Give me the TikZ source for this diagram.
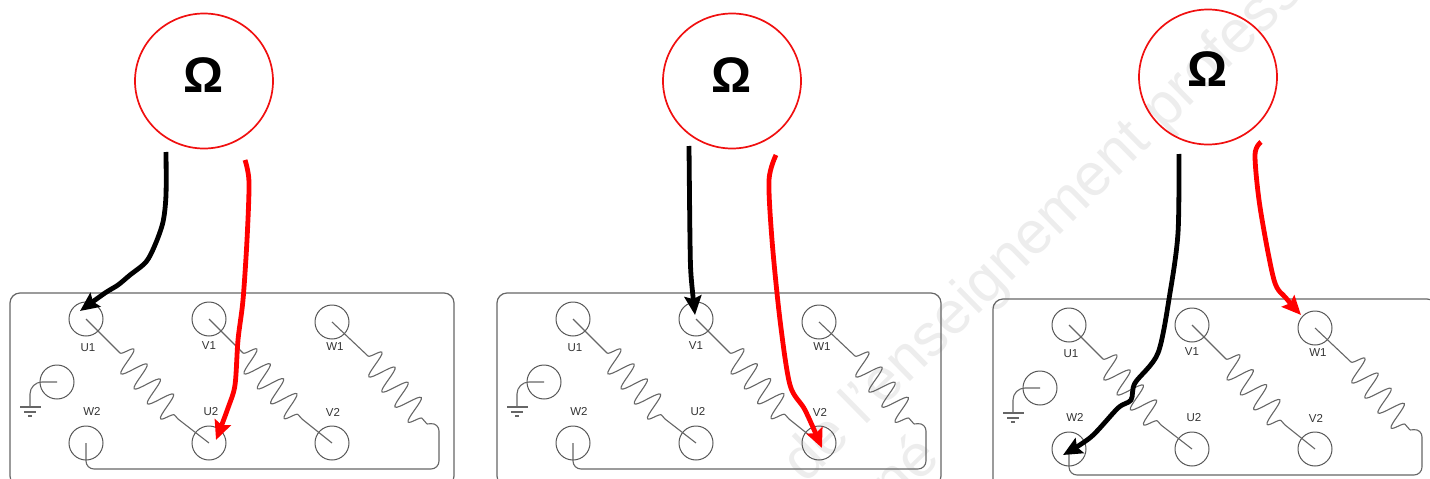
\documentclass[tikz,border=0pt]{standalone}
\usepackage{fontspec}
\setmainfont{Liberation Sans}
\usetikzlibrary{arrows.meta,shapes.geometric,decorations.pathmorphing}

\definecolor{ringred}{HTML}{F01010}
\definecolor{wirered}{HTML}{FF0000}
\definecolor{boxgray}{HTML}{666666}
\definecolor{marktext}{HTML}{EDEDED}

\tikzset{
    meter/.style={ellipse, draw=ringred, line width=1.7pt, minimum width=138pt, minimum height=135pt, inner sep=0pt},
    ohm/.style={font=\fontsize{50}{50}\selectfont\bfseries, inner sep=0pt},
    terminal/.style={circle, draw=boxgray!85!black, line width=1pt, minimum size=34pt, inner sep=0pt},
    tag/.style={font=\fontsize{11.5}{11.5}\selectfont, text=black!80, inner sep=0pt},
    winding/.style={draw=boxgray, line width=1.1pt},
    spring/.style={winding, decorate, decoration={snake, segment length=20pt, amplitude=13pt}},
    lead/.style={-{Stealth[length=19pt,width=17pt,inset=3pt]}, line width=4.8pt},
}

\begin{document}
\begin{tikzpicture}[x=1pt,y=-1pt]
    \useasboundingbox (0,0) rectangle (1430,479);
    \clip (0,0) rectangle (1430,479);

    \node[rotate=44.5, text=marktext, font=\fontsize{60}{60}\selectfont, anchor=west, inner sep=0pt] (mark1) at (794,474) {de l'enseignement professionnel};
    \node[rotate=44.5, text=marktext, font=\fontsize{60}{60}\selectfont, inner sep=0pt] (mark2) at (903,468) {né};

    \node[meter] (ma) at (204,81) {};
    \node[meter] (mb) at (732,81) {};
    \node[meter] (mc) at (1208,77) {};
    \node[ohm] (oa) at (204,75) {Ω};
    \node[ohm] (ob) at (732,75) {Ω};
    \node[ohm] (oc) at (1208,69) {Ω};

    \foreach \p/\dx/\dy in {a/0/0, b/487/0, c/983/6} {
        \begin{scope}[shift={(\dx,\dy)}]
            \draw[boxgray, line width=1.2pt, rounded corners=10pt] (10,293) rectangle (454,486);

            \node[terminal] (u1\p) at (86,319) {};
            \node[terminal] (v1\p) at (209,319) {};
            \node[terminal] (w1\p) at (332,322) {};
            \node[terminal] (u2\p) at (209,443) {};
            \node[terminal] (v2\p) at (332,443) {};
            \node[terminal] (w2\p) at (86,443) {};
            \node[terminal] (g\p) at (57,382) {};

            \node[tag] (tu1\p) at (88,348) {U1};
            \node[tag] (tv1\p) at (209,346) {V1};
            \node[tag] (tw1\p) at (335,347) {W1};
            \node[tag] (tu2\p) at (211,412) {U2};
            \node[tag] (tv2\p) at (333,412) {V2};
            \node[tag] (tw2\p) at (92,411) {W2};

            % windings
            \coordinate (ca\p) at (120,353);
            \coordinate (cb\p) at (178,419);
            \coordinate (cc\p) at (243,353);
            \coordinate (cd\p) at (302,419);
            \coordinate (ce\p) at (368,356);
            \coordinate (cf\p) at (427,424);
            \draw[winding] (u1\p.center) -- (ca\p);
            \draw[spring] (ca\p) -- (cb\p);
            \draw[winding] (cb\p) -- (u2\p.center);
            \draw[winding] (v1\p.center) -- (cc\p);
            \draw[spring] (cc\p) -- (cd\p);
            \draw[winding] (cd\p) -- (v2\p.center);
            \draw[winding] (w1\p.center) -- (ce\p);
            \draw[spring] (ce\p) -- (cf\p);
            \draw[winding, rounded corners=8pt] (cf\p) -- (439,423) -- (439,469) -- (86,469) -- (w2\p.center);

            % earth
            \coordinate (ea\p) at (30,407);
            \draw[winding, rounded corners=12pt] (g\p.center) -- (30,382) -- (ea\p);
            \draw[winding] ([xshift=-10pt]ea\p) -- ([xshift=11pt]ea\p);
            \draw[winding] ([xshift=-6pt,yshift=-5pt]ea\p) -- ([xshift=6pt,yshift=-5pt]ea\p);
            \draw[winding] ([xshift=-2pt,yshift=-9pt]ea\p) -- ([xshift=2pt,yshift=-9pt]ea\p);
        \end{scope}
    }

    % test leads
    \draw[lead, black] plot[smooth, tension=.5] coordinates {(166,152) (166,195) (163,222) (155,245) (146,262) (130,275) (118,285) (105,293) ([xshift=-6pt,yshift=8pt]u1a.center)};
    \draw[lead, wirered] plot[smooth, tension=.5] coordinates {(245,160) (249,182) (247,240) (243,300) (238,340) (235,385) (228,408) ([xshift=7pt,yshift=3pt]u2a.center)};
    \draw[lead, black] plot[smooth, tension=.5] coordinates {(689,146) (690,240) (691,275) ([xshift=-1pt,yshift=4pt]v1b.center)};
    \draw[lead, wirered] plot[smooth, tension=.5] coordinates {(776,155) (769,180) (772,240) (780,320) (790,385) (805,410) ([xshift=3pt,yshift=-5pt]v2b.center)};
    \draw[lead, black] plot[smooth, tension=.5] coordinates {(1179,154) (1178,233) (1170,293) (1158,353) (1135,383) (1131,400) (1118,408) (1091,437) ([xshift=-6pt,yshift=-6pt]w2c.center)};
    \draw[lead, wirered] plot[smooth, tension=.5] coordinates {(1261,142) (1255,155) (1260,207) (1274,280) (1286,298) ([xshift=-14pt,yshift=13pt]w1c.center)};
\end{tikzpicture}
\end{document}
